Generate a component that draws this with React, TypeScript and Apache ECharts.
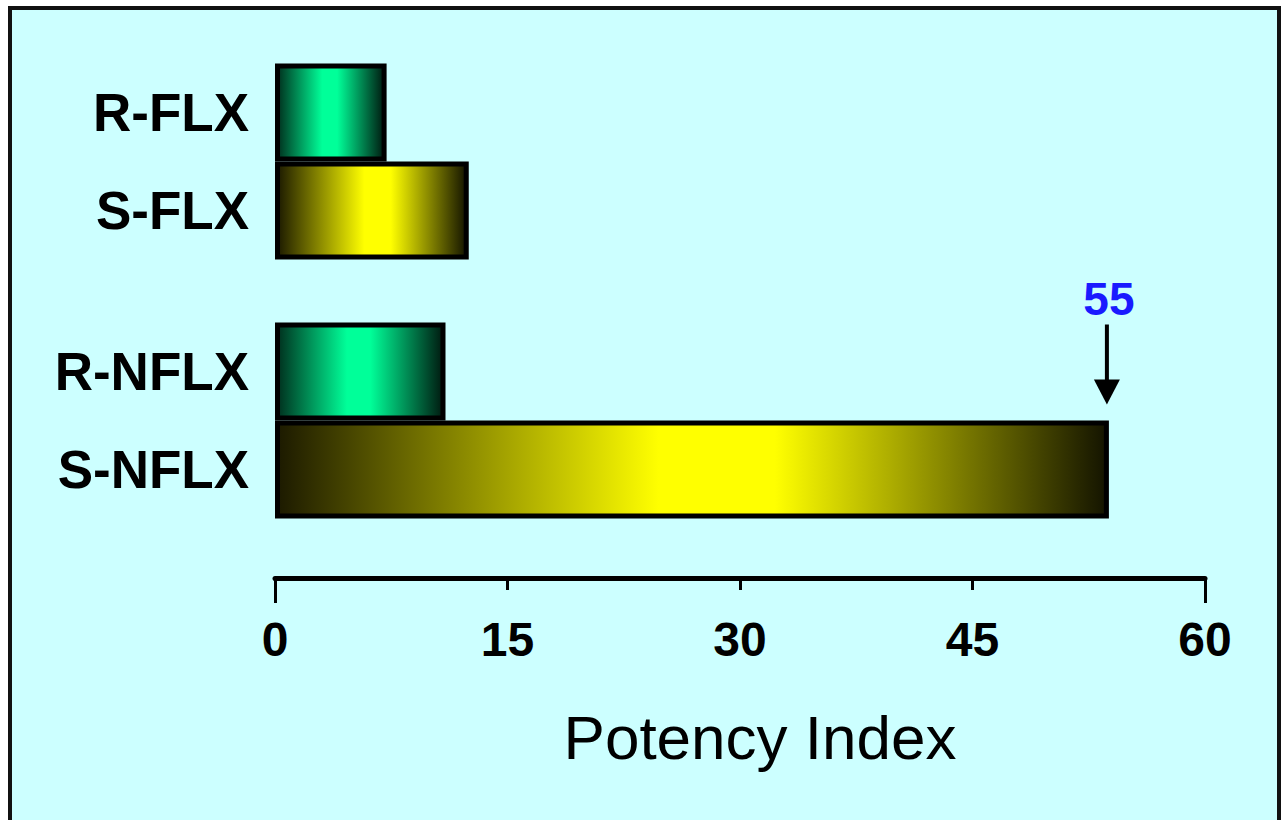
import React, { useEffect, useRef } from "react";
import * as echarts from "echarts";

const compounds = ["FLX", "NFLX"];
const enantiomers = ["R", "S"];
const rValues = [7.2, 11.0];
const sValues = [12.5, 53.8];
const xTicks = [0, 15, 30, 45, 60];
const calloutLabels = ["55"];
const axisTitle = "Potency Index";

export default function App() {
  const ref = useRef<HTMLDivElement>(null);
  useEffect(() => {
    const chart = echarts.init(ref.current as HTMLDivElement, null, { renderer: "svg" });
    const green = new echarts.graphic.LinearGradient(0, 0, 1, 0, [
      { offset: 0, color: "#00301e" },
      { offset: 0.42, color: "#00ff99" },
      { offset: 0.56, color: "#00ff99" },
      { offset: 1, color: "#001a10" },
    ]);
    const yellow = new echarts.graphic.LinearGradient(0, 0, 1, 0, [
      { offset: 0, color: "#1c1a00" },
      { offset: 0.46, color: "#ffff00" },
      { offset: 0.6, color: "#ffff00" },
      { offset: 1, color: "#141400" },
    ]);
    const labelStyle = {
      show: true,
      position: "left",
      distance: 26,
      fontSize: 53,
      fontWeight: "bold",
      fontFamily: "'Liberation Sans', Arial, sans-serif",
      color: "#000",
      formatter: (p: any) => `${enantiomers[p.seriesIndex]}-${p.name}`,
    };
    const xMin = xTicks[0];
    const xMax = xTicks[xTicks.length - 1];
    const step = xTicks[1] - xTicks[0];
    const frame = {
      id: "frame",
      type: "rect",
      z: -10,
      silent: true,
      shape: { x: 10, y: 8, width: 1269, height: 815 },
      style: { fill: "#ccffff", stroke: "#111", lineWidth: 4 },
    };
    const option: any = {
      animation: false,
      backgroundColor: "#ffffff",
      grid: { left: 275, right: 80, top: 32, bottom: 270, containLabel: false },
      xAxis: [
        {
          type: "value",
          min: xMin,
          max: xMax,
          interval: step,
          position: "bottom",
          offset: 28,
          axisLine: { show: true, lineStyle: { color: "#000", width: 5 } },
          axisTick: { show: true, length: 12, lineStyle: { color: "#000", width: 3 } },
          axisLabel: {
            show: true,
            margin: 37,
            fontSize: 48,
            fontWeight: "bold",
            fontFamily: "'Liberation Sans Narrow', 'Liberation Sans', Arial, sans-serif",
            color: "#000",
          },
          splitLine: { show: false },
          name: axisTitle,
          nameLocation: "middle",
          nameGap: 128,
          nameTextStyle: {
            fontSize: 62,
            fontFamily: "'Liberation Sans', Arial, sans-serif",
            color: "#000",
            padding: [0, 0, 0, 40],
          },
        },
        {
          type: "value",
          min: xMin,
          max: xMax,
          interval: xMax - xMin,
          position: "bottom",
          offset: 28,
          axisLine: { show: false },
          axisTick: { show: true, length: 25, lineStyle: { color: "#000", width: 3 } },
          axisLabel: { show: false },
          splitLine: { show: false },
        },
      ],
      yAxis: {
        type: "category",
        data: compounds,
        inverse: true,
        axisLine: { show: false },
        axisTick: { show: false },
        axisLabel: { show: false },
        splitLine: { show: false },
      },
      series: [
        {
          name: enantiomers[0],
          type: "bar",
          data: rValues,
          barWidth: 98,
          barGap: "0%",
          itemStyle: { color: green, borderColor: "#000", borderWidth: 5 },
          label: labelStyle,
        },
        {
          name: enantiomers[1],
          type: "bar",
          data: sValues,
          barWidth: 98,
          barGap: "0%",
          itemStyle: { color: yellow, borderColor: "#000", borderWidth: 5 },
          label: labelStyle,
        },
      ],
      graphic: [frame],
    };
    chart.setOption(option);

    const pt = chart.convertToPixel({ xAxisIndex: 0, yAxisIndex: 0 }, [sValues[1], compounds[1]]) as number[];
    if (pt) {
      const ax = pt[0] - 2;
      const tipY = pt[1] - 16;
      chart.setOption({
        graphic: [
          frame,
          {
            id: "shaft",
            type: "line",
            z: 10,
            shape: { x1: ax, y1: tipY - 80, x2: ax, y2: tipY - 20 },
            style: { stroke: "#000", lineWidth: 4 },
          },
          {
            id: "head",
            type: "polygon",
            z: 10,
            shape: { points: [[ax - 13, tipY - 25], [ax + 13, tipY - 25], [ax, tipY]] },
            style: { fill: "#000" },
          },
          {
            id: "callout",
            type: "text",
            z: 10,
            x: ax + 2,
            y: tipY - 106,
            style: {
              text: calloutLabels[0],
              fill: "#1a1aff",
              fontSize: 46,
              fontWeight: "bold",
              fontFamily: "'Liberation Sans', Arial, sans-serif",
              align: "center",
              verticalAlign: "middle",
            },
          },
        ],
      });
    }
    return () => chart.dispose();
  }, []);
  return (
    <div
      ref={ref}
      style={{ position: "absolute", left: 0, top: 0, width: 1285, height: 820 }}
    />
  );
}
